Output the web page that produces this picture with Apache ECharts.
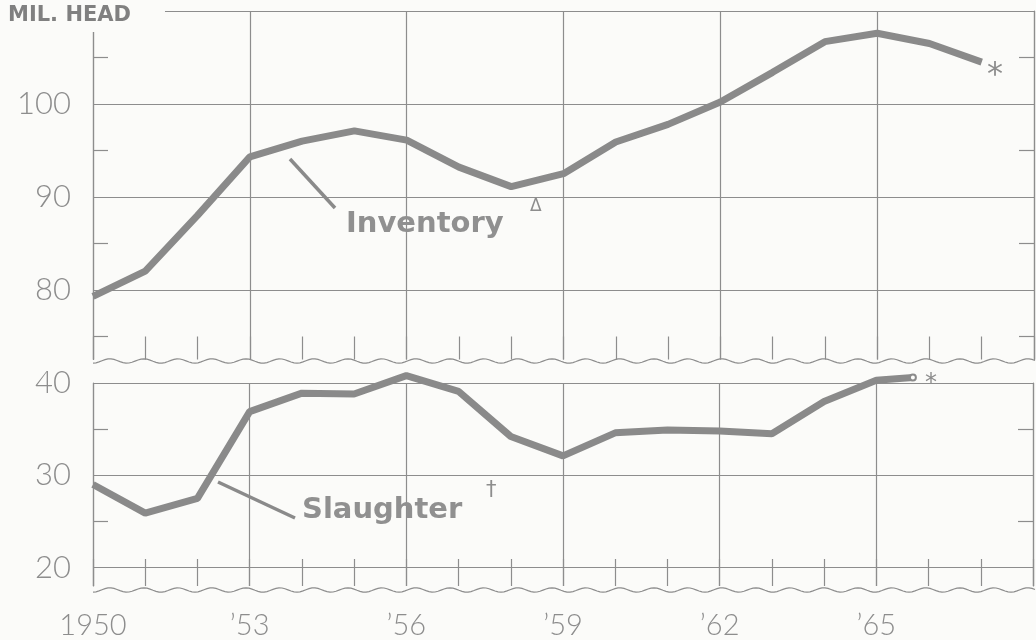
<!DOCTYPE html>
<html>
<head>
<meta charset="utf-8">
<script src="https://cdn.jsdelivr.net/npm/echarts@6/dist/echarts.min.js"></script>
<style>
  html, body { margin: 0; padding: 0; background: #fbfbf9; }
  #main { width: 1036px; height: 640px; }
</style>
</head>
<body>
<div id="main"></div>
<script>
/* 데이터 */
var years = [1950, 1951, 1952, 1953, 1954, 1955, 1956, 1957, 1958, 1959,
             1960, 1961, 1962, 1963, 1964, 1965, 1966, 1967]
var inventory = [79.3, 82.0, 88.0, 94.3, 96.0, 97.1, 96.1, 93.2, 91.1, 92.5,
                 95.9, 97.8, 100.2, 103.4, 106.7, 107.6, 106.5, 104.5]

var slaughterYears = [1950, 1951, 1952, 1953, 1954, 1955, 1956, 1957, 1958, 1959,
                      1960, 1961, 1962, 1963, 1964, 1965, 1965.7]
var slaughter = [29.0, 25.9, 27.5, 36.9, 38.9, 38.8, 40.8, 39.1, 34.2, 32.1,
                 34.6, 34.9, 34.8, 34.5, 38.0, 40.3, 40.6]

var yearLabels = [1950, 1953, 1956, 1959, 1962, 1965]
var invLabels = [80, 90, 100]
var invMinor = [75, 85, 95, 105]
var slaLabels = [20, 30, 40]
var slaMinor = [25, 35]

var gray = '#8d8d8d'
var lineGray = '#8a8a8a'
var font = "'DejaVu Sans', sans-serif"
var numFont = "Lato, 'DejaVu Sans', sans-serif"

var myChart = echarts.init(document.getElementById('main'))

// 물결 모양 축 (끊김 표시)
function wave(y0) {
  var pts = []
  for (var x = 93; x <= 1035; x += 3) {
    pts.push([x, y0 + 2.2 * Math.sin((x - 93) / 34 * 2 * Math.PI + 1.6)])
  }
  return pts
}

function yearAxis(grid, tickLen, showLabel) {
  return {
    type: 'value', gridIndex: grid, min: 1950, max: 1968, interval: 1,
    axisLine: { show: false },
    axisTick: { show: true, inside: true, length: tickLen, lineStyle: { color: gray, width: 1.2 } },
    axisLabel: {
      show: showLabel, margin: 25, fontSize: 29, color: gray, fontFamily: numFont, fontWeight: 300,
      formatter: function (v) {
        if (yearLabels.indexOf(v) < 0) return ''
        return v === 1950 ? '1950' : '\u2019' + String(v).slice(2)
      }
    },
    splitLine: { show: true, lineStyle: { color: [gray, 'transparent', 'transparent'], width: 1.2 } }
  }
}

function mainY(grid, min, max, step, labels, colors) {
  return {
    type: 'value', gridIndex: grid, position: 'left', min: min, max: max, interval: step,
    axisLine: { show: true, lineStyle: { color: gray, width: 1.2 } },
    axisTick: { show: false },
    axisLabel: {
      margin: 22, fontSize: 31, color: gray, fontFamily: numFont, fontWeight: 300,
      formatter: function (v) { return labels.indexOf(v) >= 0 ? String(v) : '' }
    },
    splitLine: { show: true, lineStyle: { color: colors, width: 1.2 } }
  }
}

function minorY(grid, min, max, pos, ticks, showLine) {
  return {
    type: 'value', gridIndex: grid, position: pos, min: min, max: max,
    axisLine: { show: showLine, lineStyle: { color: gray, width: 1.2 } },
    axisTick: { show: true, inside: true, length: 15, customValues: ticks, lineStyle: { color: gray, width: 1.2 } },
    axisLabel: { show: false },
    splitLine: { show: false }
  }
}

// 차트 옵션 작성하기
var option = {
  backgroundColor: '#fbfbf9',
  animation: false,
  title: {
    text: 'MIL. HEAD',
    left: 2, top: 0,
    padding: [5, 34, 6, 6],
    backgroundColor: '#fbfbf9',
    textStyle: { fontSize: 21, fontWeight: 'bold', color: '#808080', fontFamily: font }
  },
  grid: [
    { left: 93, right: 2, top: 11, height: 348.5 },
    { left: 93, right: 2, top: 383, height: 206 }
  ],
  xAxis: [
    yearAxis(0, 23, false),
    yearAxis(1, 27, true)
  ],
  yAxis: [
    mainY(0, 72.5, 110, 2.5, invLabels, ['transparent', 'transparent', 'transparent', gray]),
    minorY(0, 72.5, 110, 'left', invMinor, false),
    minorY(0, 72.5, 110, 'right', invMinor, true),
    mainY(1, 18, 40, 2, slaLabels, ['transparent', gray, 'transparent', 'transparent', 'transparent']),
    minorY(1, 18, 40, 'left', slaMinor, false),
    minorY(1, 18, 40, 'right', slaMinor, true)
  ],
  series: [
    {
      name: 'Inventory',
      type: 'line',
      xAxisIndex: 0, yAxisIndex: 0,
      symbol: 'none',
      clip: false,
      lineStyle: { color: lineGray, width: 7 },
      data: years.map(function (y, i) { return [y, inventory[i]] })
    },
    {
      name: 'Slaughter',
      type: 'line',
      xAxisIndex: 1, yAxisIndex: 3,
      symbol: 'none',
      clip: false,
      lineStyle: { color: lineGray, width: 7 },
      data: slaughterYears.map(function (y, i) {
        if (i === slaughterYears.length - 1) {
          return { value: [y, slaughter[i]], symbol: 'circle', symbolSize: 6,
                   itemStyle: { color: '#fbfbf9', borderColor: lineGray, borderWidth: 2 } }
        }
        return [y, slaughter[i]]
      })
    }
  ],
  graphic: [
    { type: 'polyline', shape: { points: wave(361) }, style: { stroke: gray, lineWidth: 1.2, fill: null }, z: 10 },
    { type: 'polyline', shape: { points: wave(590) }, style: { stroke: gray, lineWidth: 1.2, fill: null }, z: 10 },
    // 라벨 지시선
    { type: 'line', shape: { x1: 290, y1: 159, x2: 335, y2: 208 }, style: { stroke: lineGray, lineWidth: 3.5 }, z: 10 },
    { type: 'line', shape: { x1: 218, y1: 482, x2: 295, y2: 518 }, style: { stroke: lineGray, lineWidth: 3.5 }, z: 10 },
    { type: 'text', x: 346, y: 224, z: 10,
      style: { text: 'Inventory', fontSize: 29, fontWeight: 'bold', fontFamily: font, fill: '#909090', verticalAlign: 'middle' } },
    { type: 'text', x: 530, y: 207, z: 10,
      style: { text: '\u0394', fontSize: 17, fontFamily: font, fill: gray, verticalAlign: 'middle' } },
    { type: 'text', x: 302, y: 510, z: 10,
      style: { text: 'Slaughter', fontSize: 29, fontWeight: 'bold', fontFamily: font, fill: '#909090', verticalAlign: 'middle' } },
    { type: 'text', x: 486, y: 491, z: 10,
      style: { text: '\u2020', fontSize: 21, fontFamily: font, fill: gray, verticalAlign: 'middle' } },
    { type: 'text', x: 987, y: 76, z: 10,
      style: { text: '*', fontSize: 32, fontFamily: font, fill: gray, verticalAlign: 'middle' } },
    { type: 'text', x: 925, y: 384, z: 10,
      style: { text: '*', fontSize: 24, fontFamily: font, fill: gray, verticalAlign: 'middle' } }
  ]
}

//  차트 옵션 설정하기
myChart.setOption(option)
</script>
</body>
</html>
